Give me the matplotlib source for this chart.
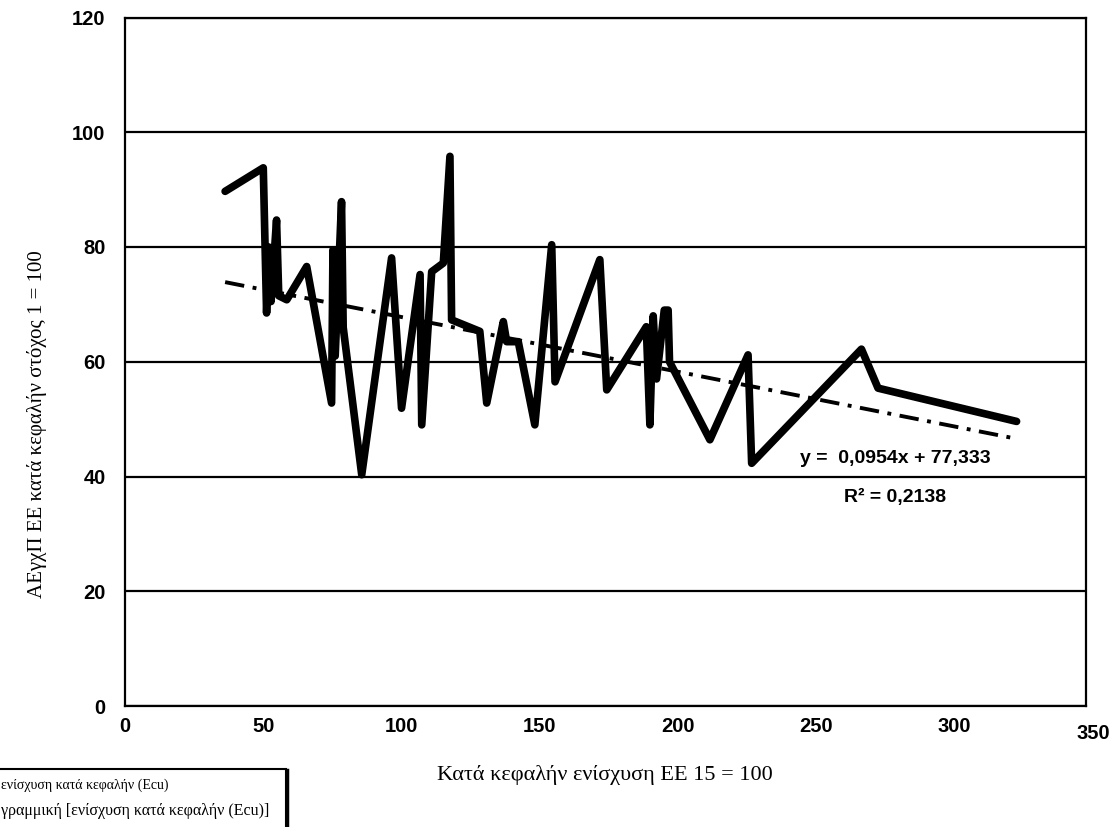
import matplotlib.pyplot as plt
from matplotlib.patches import Rectangle

# ενίσχυση κατά κεφαλήν (x) / ΑΕγχΠ (y), σειρά όπως στο γράφημα
x_vals = [36.2, 50.0, 51.2, 52.0, 52.8, 54.8, 55.6, 58.5, 65.7, 74.7, 75.2, 76.0,
          78.3, 78.9, 85.6, 96.4, 100.0, 106.7, 107.3, 110.9, 115.1, 117.5, 118.1,
          128.3, 130.8, 136.8, 138.0, 142.2, 148.2, 154.3, 155.5, 171.7, 174.2,
          188.5, 189.8, 191.0, 192.2, 195.0, 196.4, 196.9, 211.5, 225.3, 226.6,
          266.3, 272.3, 322.4]
y_vals = [89.7, 93.8, 68.5, 80.0, 70.5, 84.7, 71.5, 70.8, 76.6, 52.8, 79.5, 61.0,
          87.9, 66.0, 40.3, 78.1, 51.9, 75.2, 49.0, 75.7, 77.2, 95.8, 67.3,
          65.3, 52.8, 67.0, 63.5, 63.5, 49.0, 80.4, 56.5, 77.8, 55.1,
          66.1, 49.0, 68.0, 57.0, 69.0, 69.0, 60.0, 46.4, 61.2, 42.3,
          62.2, 55.4, 49.6]

# γραμμική τάση όπως τη δείχνει το γράφημα
slope = -0.0954
intercept = 77.333
eq_text = 'y =  0,0954x + 77,333'
r2_text = 'R² = 0,2138'

x_ticks = [0, 50, 100, 150, 200, 250, 300]
y_ticks = [0, 20, 40, 60, 80, 100, 120]

fig = plt.figure(figsize=(11.13, 8.27), dpi=100)
ax = fig.add_axes([125 / 1113, 1 - 706 / 827, 961 / 1113, 688.5 / 827])

ax.plot(x_vals, y_vals, color='black', linewidth=5.5, solid_joinstyle='round',
        solid_capstyle='round', zorder=3)

tx = [x_vals[0], x_vals[-1]]
ty = [slope * v + intercept for v in tx]
ax.plot(tx, ty, color='black', linewidth=2.8, dashes=(5, 2.2, 1, 2.2), zorder=2)

ax.set_xlim(0, 347.5)
ax.set_ylim(0, 120)
ax.set_xticks(x_ticks)
ax.set_yticks(y_ticks)
ax.set_xticklabels([str(t) for t in x_ticks])
ax.set_yticklabels([str(t) for t in y_ticks])
ax.tick_params(length=0, labelsize=14.5)
ax.tick_params(axis='x', pad=8)
ax.tick_params(axis='y', pad=14)
for lab in ax.get_xticklabels() + ax.get_yticklabels():
    lab.set_fontfamily('Liberation Sans')
    lab.set_fontweight('bold')
ax.text(350, -4.8, '350', ha='center', va='center', fontsize=14.5, fontweight='bold',
        family='Liberation Sans', clip_on=False)

ax.yaxis.grid(True, color='black', linewidth=1.6)
ax.set_axisbelow(True)
for s in ax.spines.values():
    s.set_color('black')
    s.set_linewidth(1.6)

ax.text(278.7, 43.2, eq_text, ha='center', va='center', fontsize=14,
        fontweight='bold', family='Liberation Sans')
ax.text(278.4, 36.4, r2_text, ha='center', va='center', fontsize=14,
        fontweight='bold', family='Liberation Sans')

fig.text(605 / 1113, 1 - 775 / 827, 'Κατά κεφαλήν ενίσχυση ΕΕ 15 = 100',
         ha='center', va='center', fontsize=16, family='Liberation Serif')
fig.text(37 / 1113, 1 - 424 / 827, 'ΑΕγχΠ ΕΕ κατά κεφαλήν στόχος 1 = 100',
         ha='center', va='center', rotation=90, fontsize=15, family='Liberation Serif')

# υπόμνημα, κομμένο στην αριστερή άκρη
fig.patches.append(Rectangle((-10 / 1113, -10 / 827), 296 / 1113, (827 - 769 + 10) / 827,
                             transform=fig.transFigure, fill=False, edgecolor='black',
                             linewidth=1.5))
fig.lines.append(plt.Line2D([287 / 1113, 287 / 1113], [0, 1 - 770 / 827],
                            transform=fig.transFigure, color='black', linewidth=2.5))
fig.text(1 / 1113, 1 - 785 / 827, 'ενίσχυση κατά κεφαλήν (Ecu)', ha='left',
         va='center', fontsize=10, family='Liberation Serif')
fig.text(1 / 1113, 1 - 811 / 827, 'γραμμική [ενίσχυση κατά κεφαλήν (Ecu)]', ha='left',
         va='center', fontsize=11.5, family='Liberation Serif')

fig.savefig('out.png', dpi=100)
